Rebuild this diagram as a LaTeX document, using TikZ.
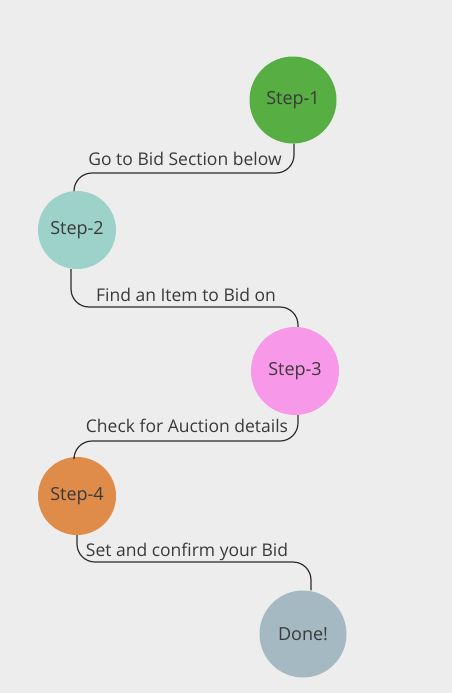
\documentclass[tikz,border=0pt]{standalone}
\usepackage{fontspec}
\setmainfont{Open Sans}
\definecolor{bg}{HTML}{EDEDED}
\definecolor{cA}{HTML}{57AE42}
\definecolor{cB}{HTML}{9DD2CA}
\definecolor{cC}{HTML}{F898E8}
\definecolor{cD}{HTML}{DF8C4B}
\definecolor{cE}{HTML}{A5B9C2}
\definecolor{ink}{HTML}{3A3A3A}
\definecolor{wire}{HTML}{2E2E2E}
\begin{document}
\begin{tikzpicture}[x=1pt,y=-1pt,
  stepnode/.style={circle,inner sep=0pt,text=ink,font=\fontsize{18}{21}\selectfont},
  lbl/.style={text=ink,font=\fontsize{17.5}{20}\selectfont,inner sep=0pt,anchor=base},
  wirestyle/.style={draw=wire,line width=1.2pt,rounded corners=18pt}]
\fill[bg] (0,0) rectangle (452,693);
\useasboundingbox (0,0) rectangle (452,693);
\node[stepnode,fill=cA,minimum size=87pt] (s1) at (293,100) {Step-1};
\node[stepnode,fill=cB,minimum size=78pt] (s2) at (77,230) {Step-2};
\node[stepnode,fill=cC,minimum size=88pt] (s3) at (295,371) {Step-3};
\node[stepnode,fill=cD,minimum size=78pt] (s4) at (77,496) {Step-4};
\node[stepnode,fill=cE,minimum size=87pt] (s5) at (303,634) {Done!};
\draw[wirestyle] ([xshift=1pt]s1.south) -- ([xshift=1pt]s1.south |- 0,173) -- ([xshift=-3pt]s2.north |- 0,173) -- ([xshift=-3pt]s2.north);
\draw[wirestyle] ([xshift=-6pt]s2.south) -- ([xshift=-6pt]s2.south |- 0,307) -- ([xshift=3pt]s3.north |- 0,307) -- ([xshift=3pt]s3.north);
\draw[wirestyle] ([xshift=3pt]s3.south) -- ([xshift=3pt]s3.south |- 0,441) -- ([xshift=-3pt]s4.north |- 0,441) -- ([xshift=-3pt]s4.north);
\draw[wirestyle] (s4.south) -- (s4.south |- 0,562) -- ([xshift=8pt]s5.north |- 0,562) -- ([xshift=8pt]s5.north);
\node[lbl] (l1) at (185,165) {Go to Bid Section below};
\node[lbl] (l2) at (186,301) {Find an Item to Bid on};
\node[lbl] (l3) at (187,432) {Check for Auction details};
\node[lbl] (l4) at (187,556) {Set and confirm your Bid};
\end{tikzpicture}
\end{document}
